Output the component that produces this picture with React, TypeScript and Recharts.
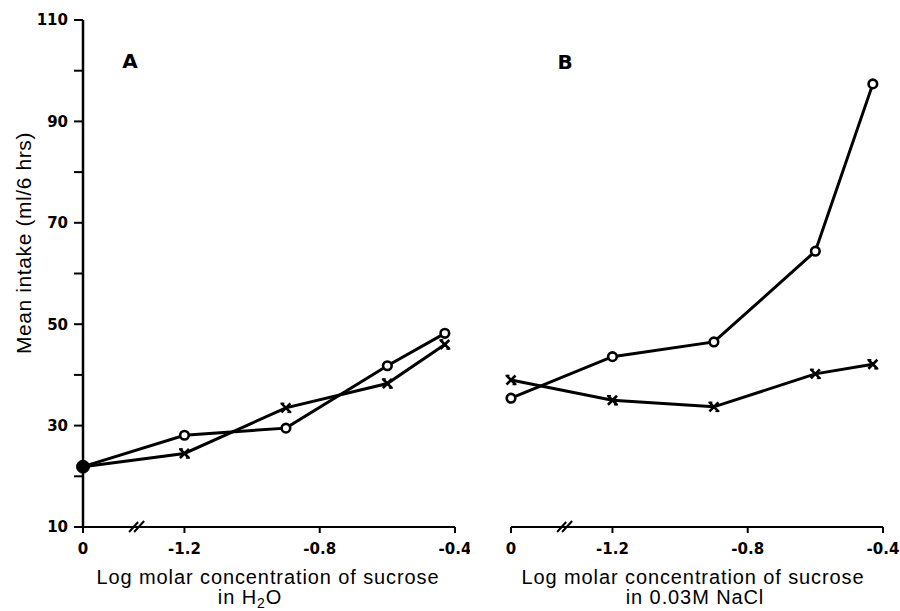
import React from 'react';
import { LineChart, Line, XAxis, YAxis, ReferenceDot } from 'recharts';

// x values (log molar concentration); 0 is drawn left of an axis break
const xValues = [0, -1.2, -0.9, -0.6, -0.43];
const panelACircles = [21.9, 28.1, 29.5, 41.8, 48.2];
const panelACrosses = [21.9, 24.5, 33.5, 38.3, 46.0];
const panelBCircles = [35.4, 43.6, 46.5, 64.4, 97.4];
const panelBCrosses = [39.0, 35.0, 33.7, 40.2, 42.1];

const xTickValues = [0, -1.2, -0.8, -0.4];
const xTickLabels = ['0', '-1.2', '-0.8', '-0.4'];
const yTicks = [10, 20, 30, 40, 50, 60, 70, 80, 90, 100, 110];
const yTickLabels = [10, 30, 50, 70, 90, 110];

const BREAK_ZERO = -1.5; // plotting position used for x = 0
const BREAK_MARK = -1.34;
const toPlot = (x: number) => (x === 0 ? BREAK_ZERO : x);

const build = (circ: number[], cross: number[]) =>
  xValues.map((x, i) => ({ px: toPlot(x), circle: circ[i], cross: cross[i] }));

const dataA = build(panelACircles, panelACrosses);
const dataB = build(panelBCircles, panelBCrosses);

const xTickPos = xTickValues.map(toPlot);
const xFmt = (v: number) => {
  const i = xTickPos.findIndex((p) => Math.abs(p - v) < 1e-6);
  return i >= 0 ? xTickLabels[i] : '';
};
const yFmt = (v: number) => (yTickLabels.includes(v) ? String(v) : '');

const tickFont = { fill: '#000', fontSize: 15, fontFamily: 'DejaVu Sans', fontWeight: 'bold' as const };
const titleFont = {
  fill: '#000',
  fontSize: 20,
  fontFamily: 'Liberation Sans, Arial, sans-serif',
  letterSpacing: 0.9,
};

const makeCircleDot = () => (props: any) => {
  const { cx, cy, index, payload } = props;
  if (cx == null || cy == null) return <g key={`c${index}`} />;
  const merged = payload && Math.abs(payload.circle - payload.cross) < 1e-6;
  if (merged) {
    return <circle key={`c${index}`} cx={cx} cy={cy} r={6.5} fill="#000" stroke="#000" strokeWidth={1} />;
  }
  return <circle key={`c${index}`} cx={cx} cy={cy} r={4.3} fill="#fff" stroke="#000" strokeWidth={2.6} />;
};

const CrossDot = (props: any) => {
  const { cx, cy, index, payload } = props;
  if (cx == null || cy == null) return <g key={`x${index}`} />;
  const merged = payload && Math.abs(payload.circle - payload.cross) < 1e-6;
  if (merged) return <g key={`x${index}`} />;
  const s = 4.5;
  return (
    <g key={`x${index}`} stroke="#000" strokeWidth={2.6} strokeLinecap="butt">
      <line x1={cx - s} y1={cy - s} x2={cx + s} y2={cy + s} />
      <line x1={cx - s} y1={cy + s} x2={cx + s} y2={cy - s} />
      <line x1={cx - s - 1} y1={cy - s} x2={cx - s + 3} y2={cy - s} strokeWidth={1.5} />
      <line x1={cx + s - 3} y1={cy + s} x2={cx + s + 1} y2={cy + s} strokeWidth={1.5} />
    </g>
  );
};

const BreakMark = (props: any) => {
  const { cx, cy } = props;
  return (
    <g stroke="#000" strokeWidth={2}>
      <line x1={cx - 8} y1={cy + 5} x2={cx + 1} y2={cy - 5} />
      <line x1={cx - 3} y1={cy + 5} x2={cx + 7} y2={cy - 6} />
    </g>
  );
};

const AxisTitleA = () => (
  <g>
    <text x={268} y={584} textAnchor="middle" {...titleFont}>
      Log molar concentration of sucrose
    </text>
    <text x={250} y={604} textAnchor="middle" {...titleFont}>
      in H
      <tspan fontSize={14} dy={4}>2</tspan>
      <tspan dy={-4}>O</tspan>
    </text>
    <text x={130} y={68} textAnchor="middle" fill="#000" fontSize={20} fontFamily="DejaVu Sans" fontWeight="bold">
      A
    </text>
  </g>
);

const AxisTitleB = () => (
  <g>
    <text x={223} y={584} textAnchor="middle" {...titleFont}>
      Log molar concentration of sucrose
    </text>
    <text x={225} y={604} textAnchor="middle" {...titleFont}>
      in 0.03M NaCl
    </text>
    <text x={95} y={69} textAnchor="middle" fill="#000" fontSize={20} fontFamily="DejaVu Sans" fontWeight="bold">
      B
    </text>
  </g>
);

const YTitle = () => (
  <text
    x={31}
    y={243}
    transform="rotate(-90, 31, 243)"
    textAnchor="middle"
    fill="#000"
    fontSize={21}
    fontFamily="Liberation Sans, Arial, sans-serif"
    letterSpacing={0.6}
  >
    Mean intake (ml/6 hrs)
  </text>
);

const lineProps = {
  type: 'linear' as const,
  stroke: '#000',
  strokeWidth: 3,
  isAnimationActive: false,
};

export default function App() {
  return (
    <div style={{ position: 'absolute', left: 0, top: 0, width: 900, height: 611, background: '#fff' }}>
      <div style={{ position: 'absolute', left: 0, top: 0 }}>
        <LineChart width={470} height={611} data={dataA} margin={{ top: 20, right: 15, bottom: 0, left: 0 }}>
          <XAxis
            type="number"
            dataKey="px"
            domain={[BREAK_ZERO, -0.4]}
            ticks={xTickPos}
            tickFormatter={xFmt}
            interval={0}
            height={84}
            tick={tickFont}
            tickSize={6}
            tickMargin={10}
            axisLine={{ stroke: '#000', strokeWidth: 2 }}
            tickLine={{ stroke: '#000', strokeWidth: 2 }}
            label={{ content: () => <AxisTitleA /> }}
          />
          <YAxis
            type="number"
            domain={[10, 110]}
            ticks={yTicks}
            tickFormatter={yFmt}
            interval={0}
            width={83}
            tick={tickFont}
            tickSize={9}
            tickMargin={6}
            axisLine={{ stroke: '#000', strokeWidth: 2.5 }}
            tickLine={{ stroke: '#000', strokeWidth: 2 }}
            label={{ content: () => <YTitle /> }}
          />
          <ReferenceDot x={BREAK_MARK} y={10} shape={BreakMark} ifOverflow="visible" />
          <Line {...lineProps} dataKey="circle" dot={makeCircleDot()} activeDot={false} />
          <Line {...lineProps} dataKey="cross" dot={CrossDot} activeDot={false} />
        </LineChart>
      </div>
      <div style={{ position: 'absolute', left: 470, top: 0 }}>
        <LineChart width={430} height={611} data={dataB} margin={{ top: 20, right: 17, bottom: 0, left: 41 }}>
          <XAxis
            type="number"
            dataKey="px"
            domain={[BREAK_ZERO, -0.4]}
            ticks={xTickPos}
            tickFormatter={xFmt}
            interval={0}
            height={84}
            tick={tickFont}
            tickSize={6}
            tickMargin={10}
            axisLine={{ stroke: '#000', strokeWidth: 2 }}
            tickLine={{ stroke: '#000', strokeWidth: 2 }}
            label={{ content: () => <AxisTitleB /> }}
          />
          <YAxis type="number" domain={[10, 110]} hide />
          <ReferenceDot x={BREAK_MARK} y={10} shape={BreakMark} ifOverflow="visible" />
          <Line {...lineProps} dataKey="circle" dot={makeCircleDot()} activeDot={false} />
          <Line {...lineProps} dataKey="cross" dot={CrossDot} activeDot={false} />
        </LineChart>
      </div>
    </div>
  );
}
